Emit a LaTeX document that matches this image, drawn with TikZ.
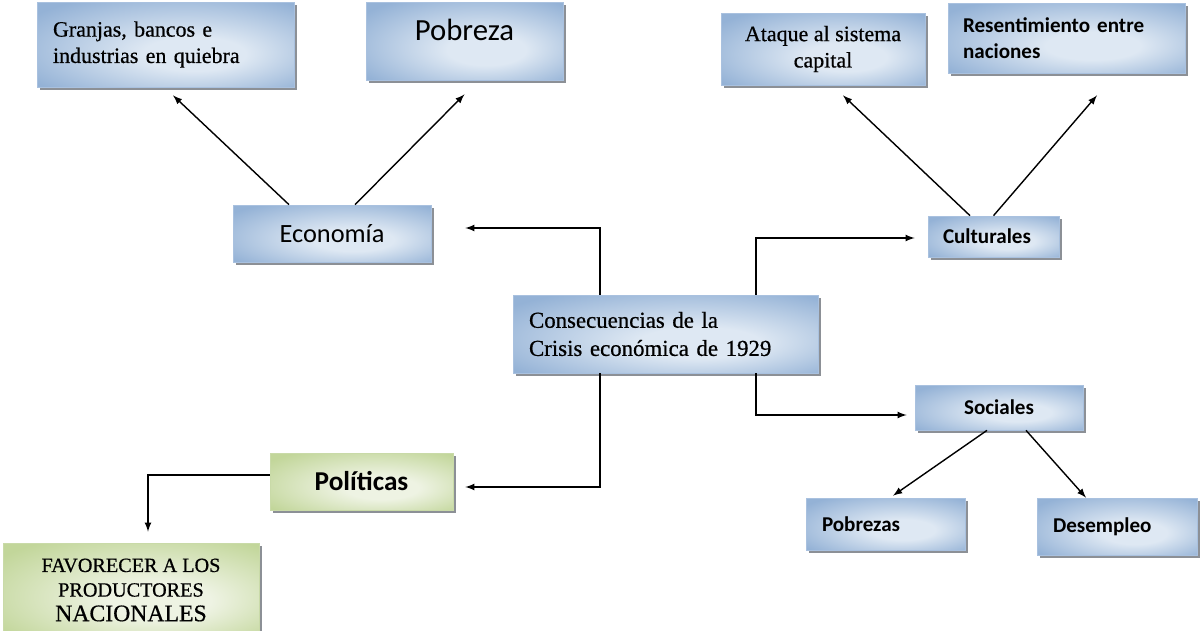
\documentclass[tikz,border=0pt]{standalone}
\usepackage{fontspec}
\setmainfont{Liberation Serif}[FakeBold=0.6]
\newfontfamily\calibri{Carlito}
\usetikzlibrary{arrows, shadows}
\definecolor{azuloscuro}{HTML}{94B2D6}
\definecolor{azulclaro}{HTML}{DEE8F3}
\definecolor{bordeazul}{HTML}{A9C1DF}
\definecolor{verdeoscuro}{HTML}{C2D69A}
\definecolor{verdeclaro}{HTML}{EEF3E3}
\definecolor{bordeverde}{HTML}{C9DAA8}
\definecolor{sombra}{HTML}{8C9096}

\pgfdeclareradialshading{brilloazul}{\pgfpoint{7bp}{-7bp}}{color(0bp)=(azulclaro); color(10bp)=(azulclaro); color(34bp)=(azuloscuro); color(50bp)=(azuloscuro)}
\pgfdeclareradialshading{brilloverde}{\pgfpoint{7bp}{-7bp}}{color(0bp)=(verdeclaro); color(10bp)=(verdeclaro); color(34bp)=(verdeoscuro); color(50bp)=(verdeoscuro)}

\tikzset{
  caja/.style={draw, line width=0.4pt, inner ysep=2pt,
    drop shadow={shadow xshift=0.06cm, shadow yshift=-0.06cm, fill=sombra, opacity=1}},
  cajaazul/.style={caja, draw=bordeazul, shade, shading=brilloazul},
  cajaverde/.style={caja, draw=bordeverde, shade, shading=brilloverde},
  flecha/.style={-latex, line width=0.8pt}
}

\begin{document}
\begin{tikzpicture}[x=0.02cm, y=-0.02cm]
      % Fix the canvas
      \path[use as bounding box, fill=white] (0,0) rectangle (1200,630);

      % Central box
      \node[cajaazul, text width=5.46cm, inner xsep=0.32cm, minimum height=1.56cm, align=left,
        font=\fontsize{13}{16}\selectfont] (crisis) at (665.5,334) {Consecuencias de la\\Crisis económica de 1929};

      % Economy branch
      \node[cajaazul, minimum width=3.96cm, minimum height=1.14cm,
        font=\calibri\fontsize{15}{18}\selectfont] (economia) at (332,233.5) {Economía};
      \node[cajaazul, text width=4.5cm, inner xsep=0.32cm, minimum height=1.7cm, align=left,
        font=\fontsize{12.5}{15}\selectfont] (granjas) at (165.5,44.5) {Granjas, bancos e\\industrias en quiebra};
      \node[cajaazul, minimum width=3.94cm, minimum height=1.56cm, text height=0.42cm, text depth=0.44cm,
        font=\calibri\fontsize{17.5}{20}\selectfont] (pobreza) at (464.5,41) {Pobreza};

      % Cultural branch
      \node[cajaazul, text width=2.02cm, inner xsep=0.3cm, minimum height=0.82cm, align=left,
        font=\calibri\bfseries\fontsize{12}{14}\selectfont] (culturales) at (993.5,236.5) {Culturales};
      \node[cajaazul, minimum width=4.08cm, minimum height=1.44cm, align=center,
        font=\fontsize{12.5}{15}\selectfont] (ataque) at (823,49) {Ataque al sistema\\capital};
      \node[cajaazul, text width=4.14cm, inner xsep=0.3cm, minimum height=1.4cm, align=left,
        font=\calibri\bfseries\fontsize{12}{15}\selectfont] (resentimiento) at (1066.5,38) {Resentimiento entre\\naciones};

      % Social branch
      \node[cajaazul, minimum width=3.36cm, minimum height=0.9cm,
        font=\calibri\bfseries\fontsize{12}{14}\selectfont] (sociales) at (999,407.5) {Sociales};
      \node[cajaazul, text width=2.54cm, inner xsep=0.32cm, minimum height=1.04cm, align=left,
        font=\calibri\bfseries\fontsize{12}{14}\selectfont] (pobrezas) at (885.5,524) {Pobrezas};
      \node[cajaazul, text width=2.56cm, inner xsep=0.32cm, minimum height=1.14cm, align=left,
        font=\calibri\bfseries\fontsize{12}{14}\selectfont] (desempleo) at (1117,526.5) {Desempleo};

      % Political branch
      \node[cajaverde, minimum width=3.66cm, minimum height=1.14cm,
        font=\calibri\bfseries\fontsize{15.5}{18}\selectfont] (politicas) at (361.5,481.5) {Políticas};
      \node[cajaverde, minimum width=5.12cm, minimum height=1.88cm, align=center,
        font=\fontsize{11.5}{14}\selectfont] (favorecer) at (131,590)
        {FAVORECER A LOS\\PRODUCTORES\\{\fontsize{13.5}{14}\selectfont NACIONALES}};

      % Elbow connectors from the central box
      \draw[flecha] ([xshift=-1.31cm]crisis.north) |- ([xshift=0.68cm, yshift=0.11cm]economia.east);
      \draw[flecha] ([xshift=1.81cm]crisis.north) |- ([xshift=-0.26cm, yshift=-0.03cm]culturales.west);
      \draw[flecha] ([xshift=1.81cm]crisis.south) |- ([xshift=-0.16cm, yshift=-0.15cm]sociales.west);
      \draw[flecha] ([xshift=-1.31cm]crisis.south) |- ([xshift=0.24cm, yshift=-0.11cm]politicas.east);
      \draw[flecha] ([yshift=0.13cm]politicas.west) -| ([xshift=0.34cm, yshift=0.22cm]favorecer.north);

      % Diagonal arrows
      \draw[flecha] ([xshift=-0.86cm]economia.north) -- ([xshift=0.15cm, yshift=-0.16cm]granjas.south);
      \draw[flecha] ([xshift=0.46cm]economia.north) -- ([yshift=-0.28cm]pobreza.south);
      \draw[flecha] ([xshift=-0.47cm]culturales.north) -- ([xshift=0.4cm, yshift=-0.2cm]ataque.south);
      \draw[flecha] (culturales.north) -- ([xshift=0.61cm, yshift=-0.44cm]resentimiento.south);
      \draw[flecha] ([xshift=-0.24cm]sociales.south) -- ([xshift=0.15cm, yshift=0.04cm]pobrezas.north);
      \draw[flecha] ([xshift=0.54cm]sociales.south) -- ([xshift=-0.62cm]desempleo.north);
    \end{tikzpicture}
\end{document}
